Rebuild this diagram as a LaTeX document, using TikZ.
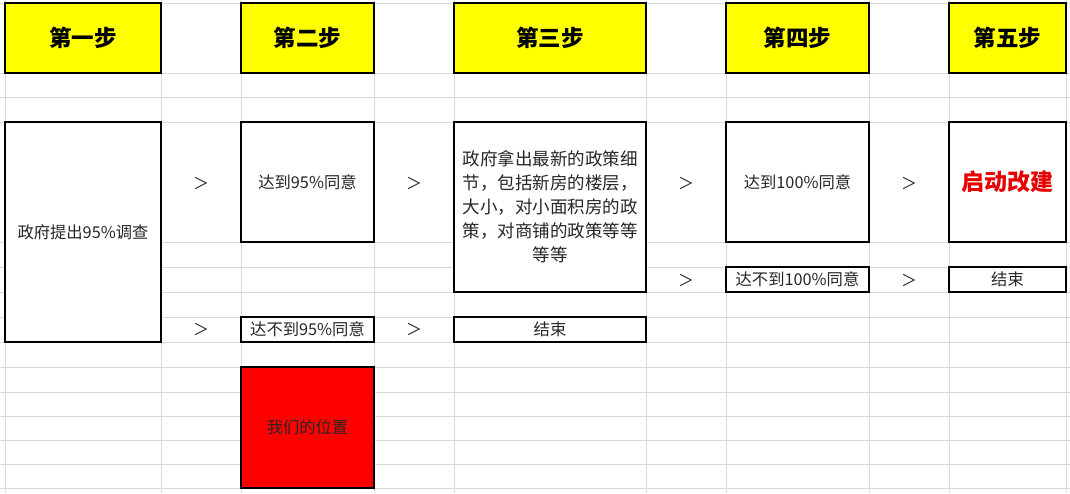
\documentclass[tikz,border=0pt]{standalone}
\usepackage{fontspec}
\setmainfont{Noto Sans CJK SC}
\definecolor{gridc}{HTML}{D9D9D9}
\definecolor{hdrY}{HTML}{FFFF00}
\definecolor{boxR}{HTML}{FF0000}
\definecolor{txtR}{HTML}{E60000}
\definecolor{txtG}{HTML}{262626}
\tikzset{
  hdr/.style={draw=black, line width=1.3pt, fill=hdrY, inner sep=0pt, font=\fontsize{22.5}{26}\selectfont\bfseries, text=black},
  cell/.style={draw=black, line width=2pt, fill=white, inner sep=0pt, font=\fontsize{16.3}{19}\selectfont, text=txtG, align=center},
  arrowsign/.style={inner sep=0pt, font=\fontsize{16}{19}\selectfont, text=txtG},
  gridline/.style={draw=gridc, line width=0.9pt}
}
\begin{document}
\begin{tikzpicture}[x=1pt,y=-1pt]
\useasboundingbox (0,0) rectangle (1070,493);
\fill[white] (0,0) rectangle (1070,493);
% grid
\foreach \yy in {3,73,97,122,242,267,292,317,342,367,392,416,440,464,488}
  \draw[gridline] (0,\yy) -- (1070,\yy);
\foreach \xx in {5,161,241,374,454,646,726,869,949,1066}
  \draw[gridline] (\xx,0) -- (\xx,493);
% headers
\node[hdr, minimum width=156, minimum height=70] (h1) at (83,38) {第一步};
\node[hdr, minimum width=133, minimum height=70] (h2) at (307.5,38) {第二步};
\node[hdr, minimum width=192, minimum height=70] (h3) at (550,38) {第三步};
\node[hdr, minimum width=143, minimum height=70] (h4) at (797.5,38) {第四步};
\node[hdr, minimum width=117, minimum height=70] (h5) at (1007.5,38) {第五步};
% main boxes
\node[cell, minimum width=156, minimum height=220] (s1) at (83,232) {政府提出95\%调查};
\node[cell, minimum width=133, minimum height=120] (s2) at (307.5,182) {达到95\%同意};
\node[cell, minimum width=192, minimum height=170, font=\fontsize{17.5}{24}\selectfont] (s3) at (550,207)
  {政府拿出最新的政策细\\节，包括新房的楼层，\\大小，对小面积房的政\\策，对商铺的政策等等\\等等};
\node[cell, minimum width=143, minimum height=120] (s4) at (797.5,182) {达到100\%同意};
\node[cell, minimum width=117, minimum height=120, text=txtR, font=\fontsize{23}{26}\selectfont\bfseries] (s5) at (1007.5,182) {启动改建};
% failure boxes
\node[cell, minimum width=143, minimum height=25] (f4) at (797.5,279.5) {达不到100\%同意};
\node[cell, minimum width=117, minimum height=25] (e5) at (1007.5,279.5) {结束};
\node[cell, minimum width=133, minimum height=25] (f2) at (307.5,329.5) {达不到95\%同意};
\node[cell, minimum width=192, minimum height=25] (e3) at (550,329.5) {结束};
\node[cell, fill=boxR, minimum width=133, minimum height=121] (pos) at (307.5,427.5) {我们的位置};
% arrow signs
\node[arrowsign] (a1) at (201,183) {＞};
\node[arrowsign] (a2) at (414,183) {＞};
\node[arrowsign] (a3) at (686,183) {＞};
\node[arrowsign] (a4) at (909,183) {＞};
\node[arrowsign] (a5) at (686,280) {＞};
\node[arrowsign] (a6) at (909,280) {＞};
\node[arrowsign] (a7) at (201,329) {＞};
\node[arrowsign] (a8) at (414,329) {＞};
\end{tikzpicture}
\end{document}
